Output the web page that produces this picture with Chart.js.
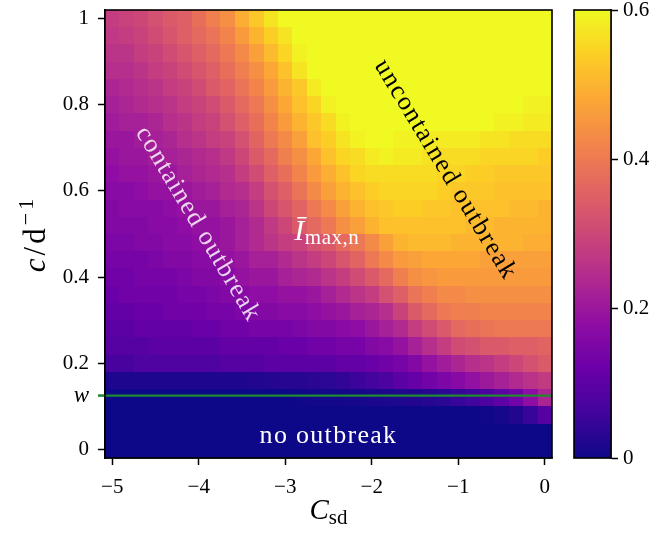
<!DOCTYPE html>
<html>
<head>
<meta charset="utf-8">
<script src="https://cdn.jsdelivr.net/npm/chart.js@4.4.1/dist/chart.umd.min.js"></script>
<style>
  html, body { margin: 0; padding: 0; background: #fff; }
  #wrap { position: relative; width: 663px; height: 540px; }
  #heat { position: absolute; left: 0; top: 0; }
  #bar { position: absolute; left: 570px; top: 0; }
</style>
</head>
<body>
<div id="wrap">
  <canvas id="heat" width="570" height="540"></canvas>
  <canvas id="bar" width="93" height="540"></canvas>
</div>
<script>
// grid of the scan: social distancing strength C_sd (columns), contact rate c (rows)
var cSd = [-5, -4.833, -4.667, -4.5, -4.333, -4.167, -4, -3.833, -3.667, -3.5, -3.333,
           -3.167, -3, -2.833, -2.667, -2.5, -2.333, -2.167, -2, -1.833, -1.667,
           -1.5, -1.333, -1.167, -1, -0.833, -0.667, -0.5, -0.333, -0.167, 0];
var cRate = [1.00, 0.96, 0.92, 0.88, 0.84, 0.80, 0.76, 0.72, 0.68, 0.64, 0.60, 0.56, 0.52,
             0.48, 0.44, 0.40, 0.36, 0.32, 0.28, 0.24, 0.20, 0.16, 0.12, 0.08, 0.04, 0.00];
var w = 0.125;
var xTicks = [-5, -4, -3, -2, -1, 0];
var yTicks = [0, 0.2, 0.4, 0.6, 0.8, 1];
var barTicks = [0, 0.2, 0.4, 0.6];
var vMax = 0.6;

// mean maximum of infected, one row per entry of cRate (top row first)
var iMax = [
  [.28,.29,.30,.32,.34,.35,.38,.41,.44,.49, .53,.57,.60,.60,.60,.60,.60,.60,.60,.60, .60,.60,.60,.60,.60,.60,.60,.60,.60,.60,.60],
  [.27,.28,.29,.31,.33,.35,.37,.39,.42,.46, .50,.54,.57,.60,.60,.60,.60,.60,.60,.60, .60,.60,.60,.60,.60,.60,.60,.60,.60,.60,.60],
  [.26,.26,.28,.29,.31,.33,.35,.37,.40,.43, .47,.51,.55,.59,.60,.60,.60,.60,.60,.60, .60,.60,.60,.60,.60,.60,.60,.60,.60,.60,.60],
  [.25,.25,.26,.28,.29,.31,.33,.35,.38,.41, .44,.48,.52,.57,.60,.60,.60,.60,.60,.60, .60,.60,.60,.60,.60,.60,.60,.60,.60,.60,.60],
  [.23,.24,.25,.26,.28,.29,.31,.34,.36,.39, .42,.46,.50,.53,.58,.60,.60,.60,.60,.60, .60,.60,.60,.60,.60,.60,.60,.60,.60,.60,.60],
  [.22,.23,.24,.25,.26,.28,.29,.31,.34,.37, .40,.44,.48,.52,.55,.59,.60,.60,.60,.60, .60,.60,.60,.60,.60,.60,.60,.60,.60,.59,.59],
  [.21,.22,.22,.23,.25,.26,.28,.29,.32,.35, .38,.42,.46,.50,.53,.56,.59,.60,.60,.60, .60,.60,.60,.60,.60,.60,.60,.59,.59,.58,.58],
  [.20,.20,.21,.22,.23,.25,.26,.28,.29,.32, .36,.40,.43,.47,.52,.54,.57,.59,.60,.60, .59,.59,.58,.58,.58,.58,.57,.57,.56,.56,.56],
  [.19,.20,.20,.21,.22,.23,.24,.25,.27,.30, .34,.37,.41,.44,.48,.52,.55,.56,.58,.59, .58,.58,.57,.56,.56,.56,.55,.55,.55,.55,.54],
  [.18,.19,.19,.20,.20,.22,.23,.24,.25,.28, .31,.35,.38,.42,.46,.49,.52,.55,.56,.56, .56,.56,.56,.55,.55,.54,.54,.53,.53,.53,.53],
  [.17,.17,.18,.19,.19,.20,.21,.22,.24,.25, .28,.32,.35,.39,.43,.47,.50,.52,.54,.55, .55,.55,.55,.54,.53,.53,.53,.52,.52,.52,.52],
  [.16,.17,.17,.17,.18,.19,.20,.20,.22,.23, .26,.30,.33,.36,.40,.43,.47,.50,.52,.53, .54,.54,.53,.53,.52,.52,.52,.52,.51,.51,.50],
  [.16,.16,.16,.17,.17,.18,.19,.19,.20,.22, .24,.27,.30,.34,.37,.40,.44,.47,.50,.52, .52,.52,.52,.52,.52,.51,.51,.50,.50,.50,.50],
  [.15,.15,.16,.16,.17,.17,.18,.19,.20,.22, .24,.26,.28,.29,.32,.34,.37,.40,.43,.47, .50,.51,.51,.51,.50,.50,.50,.50,.50,.49,.49],
  [.14,.14,.14,.15,.16,.16,.17,.17,.19,.20, .22,.22,.24,.26,.28,.30,.33,.36,.40,.43, .46,.47,.48,.48,.48,.48,.47,.47,.47,.47,.47],
  [.13,.13,.14,.14,.14,.15,.16,.16,.17,.19, .20,.20,.22,.23,.24,.26,.28,.31,.34,.37, .41,.44,.45,.46,.46,.46,.46,.46,.46,.46,.46],
  [.12,.13,.13,.13,.13,.14,.14,.15,.16,.17, .18,.18,.19,.19,.20,.22,.24,.26,.28,.32, .35,.39,.41,.43,.43,.44,.44,.44,.44,.44,.44],
  [.11,.11,.12,.12,.13,.13,.13,.14,.14,.15, .16,.16,.17,.17,.18,.19,.20,.22,.23,.25, .29,.34,.37,.40,.41,.41,.42,.42,.42,.42,.42],
  [.10,.10,.11,.11,.11,.11,.12,.12,.13,.13, .14,.14,.14,.15,.16,.16,.17,.18,.20,.22, .24,.28,.31,.34,.37,.38,.39,.40,.40,.40,.40],
  [.09,.09,.09,.10,.10,.10,.10,.10,.11,.11, .11,.11,.12,.12,.13,.13,.14,.14,.16,.17, .19,.22,.25,.28,.31,.32,.34,.34,.35,.35,.36],
  [.07,.07,.08,.08,.08,.08,.08,.08,.09,.09, .09,.10,.10,.10,.10,.10,.11,.11,.12,.13, .14,.16,.19,.21,.23,.25,.26,.28,.30,.32,.34],
  [.02,.02,.02,.02,.02,.02,.02,.02,.02,.02, .024,.027,.03,.03,.033,.036,.042,.054,.066,.078, .096,.114,.132,.15,.168,.186,.204,.222,.24,.258,.276],
  [0,0,0,0,0,0,0,0,0,0, 0,0,0,.003,.006,.006,.009,.012,.015,.018, .021,.024,.03,.036,.048,.06,.078,.102,.132,.18,.228],
  [0,0,0,0,0,0,0,0,0,0, 0,0,0,0,0,0,0,0,0,0, 0,0,0,0,0,0,.003,.012,.024,.048,.09],
  [0,0,0,0,0,0,0,0,0,0, 0,0,0,0,0,0,0,0,0,0, 0,0,0,0,0,0,0,0,0,0,0],
  [0,0,0,0,0,0,0,0,0,0, 0,0,0,0,0,0,0,0,0,0, 0,0,0,0,0,0,0,0,0,0,0]
];

var serif = "'Liberation Serif', 'DejaVu Serif', serif";
var plasma = ['#0d0887', '#41049d', '#6a00a8', '#8f0da4', '#b12a90', '#cc4778',
              '#e16462', '#f2844b', '#fca636', '#fcce25', '#f0f921'];

function hexRgb(h) {
    return [parseInt(h.substr(1, 2), 16), parseInt(h.substr(3, 2), 16), parseInt(h.substr(5, 2), 16)];
}

function plasmaColor(t) {
    t = Math.max(0, Math.min(1, t));
    var p = t * (plasma.length - 1);
    var i = Math.min(plasma.length - 2, Math.floor(p));
    var f = p - i;
    var a = hexRgb(plasma[i]), b = hexRgb(plasma[i + 1]);
    return 'rgb(' + Math.round(a[0] + (b[0] - a[0]) * f) + ',' +
        Math.round(a[1] + (b[1] - a[1]) * f) + ',' + Math.round(a[2] + (b[2] - a[2]) * f) + ')';
}

// draw a line of text made of several styled pieces, centred on (x, y)
function drawParts(ctx, parts, x, y, angle, baseline, spacing) {
    ctx.save();
    ctx.translate(x, y);
    ctx.rotate(angle || 0);
    ctx.textBaseline = baseline || 'alphabetic';
    ctx.textAlign = 'left';
    ctx.letterSpacing = (spacing || 0) + 'px';
    var total = 0;
    parts.forEach(function (p) {
        ctx.font = p.font;
        p.w = ctx.measureText(p.text).width;
        total += p.w;
    });
    var cx = -total / 2;
    parts.forEach(function (p) {
        ctx.font = p.font;
        ctx.fillStyle = p.color || '#000';
        ctx.fillText(p.text, cx, p.dy || 0);
        cx += p.w;
    });
    ctx.restore();
}

// keep the plot box where it is, whatever the tick labels need
function noScalePadding(s) {
    s.paddingTop = 0;
    s.paddingBottom = 0;
    s.paddingLeft = 0;
    s.paddingRight = 0;
}

var cells = [];
for (var j = 0; j < cRate.length; j++) {
    for (var i = 0; i < cSd.length; i++) {
        cells.push({ x: cSd[i], y: cRate[j], v: iMax[j][i] });
    }
}
var halfX = (cSd[1] - cSd[0]) / 2;
var halfY = (cRate[0] - cRate[1]) / 2;

var heatPlugin = {
    id: 'heatCells',
    beforeDatasetsDraw: function (chart) {
        var ctx = chart.ctx, xs = chart.scales.x, ys = chart.scales.y;
        ctx.save();
        chart.data.datasets[0].data.forEach(function (d) {
            var x0 = Math.round(xs.getPixelForValue(d.x - halfX));
            var x1 = Math.round(xs.getPixelForValue(d.x + halfX));
            var y0 = Math.round(ys.getPixelForValue(d.y - halfY));
            var y1 = Math.round(ys.getPixelForValue(d.y + halfY));
            ctx.fillStyle = plasmaColor(d.v / vMax);
            ctx.fillRect(x0, y1, x1 - x0, y0 - y1);
        });
        ctx.restore();
    },
    afterDatasetsDraw: function (chart) {
        var ctx = chart.ctx, a = chart.chartArea, xs = chart.scales.x, ys = chart.scales.y;
        ctx.save();
        // threshold line at c = w
        var yw = ys.getPixelForValue(w);
        ctx.strokeStyle = '#1f8a30';
        ctx.lineWidth = 2.2;
        ctx.beginPath();
        ctx.moveTo(a.left - 7, yw);
        ctx.lineTo(a.right, yw);
        ctx.stroke();
        ctx.strokeStyle = '#000';
        ctx.lineWidth = 1.6;
        ctx.strokeRect(a.left, a.top, a.right - a.left, a.bottom - a.top);

        var big = '26px ' + serif;
        drawParts(ctx, [{ text: 'contained outbreak', font: big, color: 'rgba(255,255,255,0.82)' }],
            xs.getPixelForValue(-4.01), ys.getPixelForValue(0.523), 59.3 * Math.PI / 180, 'middle', 1.3);
        drawParts(ctx, [{ text: 'uncontained outbreak', font: big, color: '#000' }],
            xs.getPixelForValue(-1.15), ys.getPixelForValue(0.649), 58.8 * Math.PI / 180, 'middle', 1.4);
        drawParts(ctx, [
            { text: 'Ī', font: 'italic 30px ' + serif, color: '#fff' },
            { text: 'max,n', font: '21px ' + serif, color: '#fff', dy: 4 }
        ], xs.getPixelForValue(-2.52), ys.getPixelForValue(0.486), 0, 'alphabetic', 0.5);
        drawParts(ctx, [{ text: 'no outbreak', font: big, color: '#fff' }],
            xs.getPixelForValue(-2.5), ys.getPixelForValue(0.014), 0, 'alphabetic', 1.3);

        // axis titles
        drawParts(ctx, [
            { text: 'C', font: 'italic 29px ' + serif },
            { text: 'sd', font: '21px ' + serif, dy: 5 }
        ], (a.left + a.right) / 2, 519, 0, 'alphabetic');
        drawParts(ctx, [
            { text: 'c', font: 'italic 31px ' + serif },
            { text: '/d', font: '31px ' + serif },
            { text: '\u22121', font: '22px ' + serif, dy: -12 }
        ], 45, (a.top + a.bottom) / 2, -Math.PI / 2, 'alphabetic', 3);
        ctx.restore();
    }
};

var tickFont = { family: serif, size: 21 };

new Chart(document.getElementById('heat'), {
    type: 'scatter',
    data: { datasets: [{ data: cells, pointRadius: 0, pointHoverRadius: 0 }] },
    options: {
        responsive: false,
        animation: false,
        devicePixelRatio: 1,
        events: [],
        layout: { padding: { left: 0, top: 10, right: 18, bottom: 0 } },
        plugins: { legend: { display: false }, tooltip: { enabled: false } },
        scales: {
            x: {
                type: 'linear',
                min: cSd[0] - halfX,
                max: cSd[cSd.length - 1] + halfX,
                afterBuildTicks: function (s) { s.ticks = xTicks.map(function (v) { return { value: v }; }); },
                afterFit: function (s) { s.height = 82; noScalePadding(s); },
                ticks: {
                    autoSkip: false, maxRotation: 0, padding: 10, color: '#000', font: tickFont,
                    callback: function (v) { return v < 0 ? '\u2212' + Math.abs(v) : String(v); }
                },
                grid: { drawOnChartArea: false, drawTicks: true, tickLength: 7, tickColor: '#000', tickWidth: 1.5 },
                border: { display: true, color: '#000', width: 1.6 }
            },
            y: {
                type: 'linear',
                min: cRate[cRate.length - 1] - halfY,
                max: cRate[0] + halfY,
                afterBuildTicks: function (s) {
                    s.ticks = yTicks.concat([w]).map(function (v) { return { value: v }; });
                },
                afterFit: function (s) { s.width = 105; noScalePadding(s); },
                ticks: {
                    autoSkip: false, padding: 9, color: '#000',
                    font: function (c) {
                        if (c.tick && c.tick.value === w) return { family: serif, size: 23, style: 'italic' };
                        return tickFont;
                    },
                    callback: function (v) { return v === w ? 'w' : String(v); }
                },
                grid: { drawOnChartArea: false, drawTicks: true, tickLength: 7, tickColor: '#000', tickWidth: 1.5 },
                border: { display: true, color: '#000', width: 1.6 }
            }
        }
    },
    plugins: [heatPlugin]
});

var barPlugin = {
    id: 'colourBar',
    beforeDatasetsDraw: function (chart) {
        var ctx = chart.ctx, a = chart.chartArea, ys = chart.scales.y;
        var steps = 150;
        ctx.save();
        for (var k = 0; k < steps; k++) {
            var v0 = vMax * k / steps, v1 = vMax * (k + 1) / steps;
            var p0 = ys.getPixelForValue(v0), p1 = ys.getPixelForValue(v1);
            ctx.fillStyle = plasmaColor((v0 + v1) / 2 / vMax);
            ctx.fillRect(a.left, Math.floor(p1), a.right - a.left, Math.ceil(p0) - Math.floor(p1));
        }
        ctx.strokeStyle = '#000';
        ctx.lineWidth = 1.6;
        ctx.strokeRect(a.left, a.top, a.right - a.left, a.bottom - a.top);
        ctx.restore();
    }
};

new Chart(document.getElementById('bar'), {
    type: 'scatter',
    data: { datasets: [{ data: [], pointRadius: 0 }] },
    options: {
        responsive: false,
        animation: false,
        devicePixelRatio: 1,
        events: [],
        layout: { padding: { left: 4, top: 10, right: 0, bottom: 82 } },
        plugins: { legend: { display: false }, tooltip: { enabled: false } },
        scales: {
            x: { display: false, min: 0, max: 1 },
            y: {
                type: 'linear',
                position: 'right',
                min: 0,
                max: vMax,
                afterBuildTicks: function (s) { s.ticks = barTicks.map(function (v) { return { value: v }; }); },
                afterFit: function (s) { s.width = 52; noScalePadding(s); },
                ticks: { autoSkip: false, padding: 5, color: '#000', font: tickFont },
                grid: { drawOnChartArea: false, drawTicks: true, tickLength: 7, tickColor: '#000', tickWidth: 1.5 },
                border: { display: true, color: '#000', width: 1.6 }
            }
        }
    },
    plugins: [barPlugin]
});
</script>
</body>
</html>
